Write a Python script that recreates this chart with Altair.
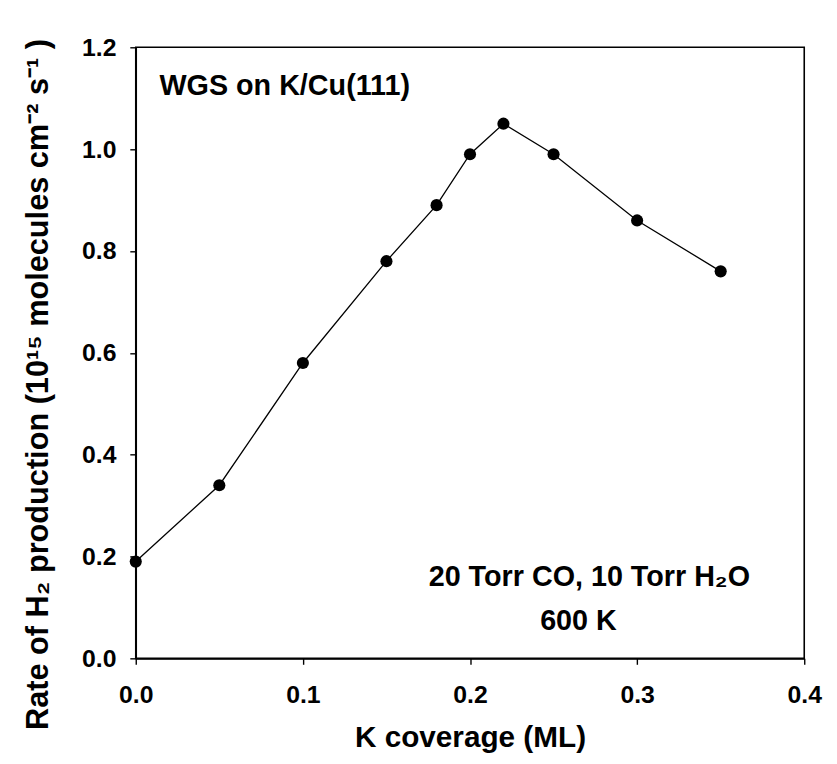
import altair as alt
import pandas as pd

# Data
coverage = [0.0, 0.05, 0.10, 0.15, 0.18, 0.20, 0.22, 0.25, 0.30, 0.35]
rate = [0.19, 0.34, 0.58, 0.78, 0.89, 0.99, 1.05, 0.99, 0.86, 0.76]
x_ticks = [0.0, 0.1, 0.2, 0.3, 0.4]
y_ticks = [0.0, 0.2, 0.4, 0.6, 0.8, 1.0, 1.2]

note_text = ["WGS on K/Cu(111)", "20 Torr CO, 10 Torr H\u2082O", "600 K"]
note_x = [0.0142, 0.2714, 0.2649]
note_y = [1.1066, 0.142, 0.0564]
note_align = ["left", "center", "center"]

df = pd.DataFrame({"coverage": coverage, "rate": rate})
notes = pd.DataFrame({"x": note_x, "y": note_y, "text": note_text, "align": note_align})

FONT = "Liberation Sans"

xscale = alt.Scale(domain=[0, 0.4], nice=False, zero=False)
yscale = alt.Scale(domain=[0, 1.2], nice=False, zero=False)

xenc = alt.X(
    "coverage:Q",
    scale=xscale,
    axis=alt.Axis(
        values=x_ticks, format=".1f", title="K coverage (ML)",
        labelFontSize=25, labelPadding=39, labelBaseline="alphabetic",
        labelFlush=False, labelOverlap=False,
        titleFontSize=30, titleY=89, titleBaseline="alphabetic",
    ),
)
yenc = alt.Y(
    "rate:Q",
    scale=yscale,
    axis=alt.Axis(
        values=y_ticks, format=".1f",
        title="Rate of H\u2082 production (10\u00b9\u2075 molecules cm\u207b\u00b2 s\u207b\u00b9 )",
        labelFontSize=25, labelPadding=14, labelBaseline="middle",
        labelFlush=False, labelOverlap=False,
        titleFontSize=31, titleX=-89, titleY=340, titleBaseline="alphabetic",
        titleAngle=270,
    ),
)

line = alt.Chart(df).mark_line(color="black", strokeWidth=1.3).encode(x=xenc, y=yenc)
pts = alt.Chart(df).mark_point(filled=True, color="black", size=150, opacity=1).encode(
    x="coverage:Q", y="rate:Q"
)

def note_layer(sub, align):
    return alt.Chart(sub).mark_text(
        font=FONT, fontSize=29, fontWeight="bold", color="black",
        align=align, baseline="alphabetic",
    ).encode(x=alt.X("x:Q", scale=xscale), y=alt.Y("y:Q", scale=yscale), text="text:N")

left_notes = note_layer(notes[notes["align"] == "left"], "left")
center_notes = note_layer(notes[notes["align"] == "center"], "center")

chart = alt.layer(line, pts, left_notes, center_notes).properties(
    width=675,
    height=617,
    background="white",
    autosize=alt.AutoSizeParams(type="none"),
    padding={"left": 129, "top": 36, "right": 25, "bottom": 103},
).configure_view(
    stroke="black", strokeWidth=1.6
).configure_axis(
    domainColor="black", domainWidth=1.6, tickColor="black", tickWidth=1.4,
    tickSize=6, grid=False, labelColor="black", titleColor="black",
    labelFont=FONT, titleFont=FONT, labelFontWeight="bold", titleFontWeight="bold",
)

chart.save("out.html", embed_options={"renderer": "svg", "actions": False})
